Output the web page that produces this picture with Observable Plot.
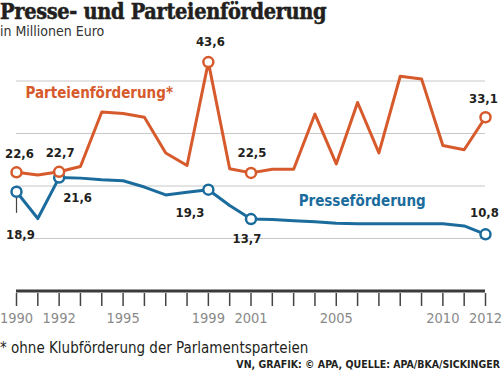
<!DOCTYPE html>
<html><head><meta charset="utf-8">
<script src="https://cdn.jsdelivr.net/npm/d3@7"></script>
<script src="https://cdn.jsdelivr.net/npm/@observablehq/plot@0.6"></script>
<style>
body{margin:0;background:#fff;width:502px;height:372px;overflow:hidden;color:#231f20}
#title{font-family:"DejaVu Serif Condensed","DejaVu Serif",serif;font-weight:bold;font-size:21.5px;line-height:23px;height:23px;white-space:nowrap;letter-spacing:-0.3px;-webkit-text-stroke:0.5px #231f20;padding-left:0px}
#sub{font-family:"DejaVu Sans Condensed","DejaVu Sans",sans-serif;font-size:14px;line-height:16px;height:16px;white-space:nowrap;color:#333}
#chart{height:301px}
#note{font-family:"DejaVu Sans Condensed","DejaVu Sans",sans-serif;font-size:15px;line-height:17px;height:17px;white-space:nowrap;color:#231f20}
#src{font-family:"DejaVu Sans Condensed","DejaVu Sans",sans-serif;font-weight:bold;font-size:10.5px;line-height:14px;height:14px;white-space:nowrap;text-align:right;padding-right:2px;color:#231f20}
</style></head><body>
<div id="title">Presse- und Parteienförderung</div>
<div id="sub">in Millionen Euro</div>
<div id="chart"></div>
<div id="note">* ohne Klubförderung der Parlamentsparteien</div>
<div id="src">VN, GRAFIK: © APA, QUELLE: APA/BKA/SICKINGER</div>
<script>
const years = [1990,1991,1992,1993,1994,1995,1996,1997,1998,1999,2000,2001,2002,2003,2004,2005,2006,2007,2008,2009,2010,2011,2012];
const parteien = [22.6,22.1,22.7,23.7,34.1,33.8,33.1,26.3,23.9,43.6,23.3,22.5,23.2,23.2,33.7,24.2,35.9,26.3,40.9,40.4,27.7,26.9,33.1];
const presse = [18.9,13.8,21.6,21.5,21.2,21.0,19.8,18.3,18.8,19.3,16.3,13.7,13.6,13.4,13.2,12.9,12.8,12.8,12.8,12.8,12.8,12.4,10.8];
const tickYears = [1990,1992,1995,1999,2001,2005,2010,2012];
const markedYears = [1990,1992,1999,2001,2012];
const seriesNames = {parteien: "Parteienförderung*", presse: "Presseförderung"};

const orange = "#d65a2b", blue = "#1b6c9c";
const rows = years.map((y,i)=>({year:y, parteien:parteien[i], presse:presse[i]}));
const marked = rows.filter(d=>markedYears.includes(d.year));
const fmt = v => v.toFixed(1).replace(".", ",");

// label placement (pixel offsets relative to the point)
const labelLayout = [
  {s:"parteien", year:1990, dx:3, dy:-19, a:"middle"},
  {s:"parteien", year:1992, dx:1, dy:-19, a:"middle"},
  {s:"parteien", year:1999, dx:2, dy:-20, a:"middle"},
  {s:"parteien", year:2001, dx:1, dy:-20, a:"middle"},
  {s:"parteien", year:2012, dx:-2, dy:-18, a:"middle"},
  {s:"presse", year:1990, dx:4, dy:43, a:"middle"},
  {s:"presse", year:1992, dx:4, dy:20, a:"start"},
  {s:"presse", year:1999, dx:-4, dy:23, a:"end"},
  {s:"presse", year:2001, dx:-4, dy:20, a:"middle"},
  {s:"presse", year:2012, dx:-1, dy:-21, a:"middle"}
];
const labelFont = {fontFamily:"'DejaVu Sans Condensed','DejaVu Sans',sans-serif", fontWeight:"bold", fontSize:13, fill:"#231f20"};
const labelMarks = labelLayout.map(l => {
  const row = rows.find(d=>d.year===l.year);
  return Plot.text([row], {x:"year", y:l.s, text: d=>fmt(d[l.s]), dx:l.dx, dy:l.dy, textAnchor:l.a, ...labelFont});
});

const lineShape = {draw(ctx, l){ ctx.moveTo(0,0); ctx.lineTo(0,-l); }};

const chart = Plot.plot({
  width:502, height:301,
  marginTop:41.5, marginBottom:49.5, marginLeft:16, marginRight:17,
  x:{domain:[1990,2012], axis:null, label:null},
  y:{domain:[0,40], axis:null, label:null},
  style:{background:"transparent", overflow:"visible"},
  marks:[
    Plot.gridY([10,20,30,40], {stroke:"#c8c8c8", strokeOpacity:1, strokeWidth:1}),
    Plot.ruleY([0], {stroke:"#3a3a3a", strokeWidth:3}),
    Plot.axisX(years, {tickSize:13, tickFormat:()=>"", label:null, dy:2.5, color:"#444", strokeWidth:1.5}),
    Plot.axisX(tickYears, {tickSize:0, tickPadding:22, label:null, tickFormat:d=>String(d), color:"#8a8a8a", fontSize:14.5, fontFamily:"'DejaVu Sans Condensed','DejaVu Sans',sans-serif"}),
    Plot.vector(marked.filter(d=>d.year===1990), {x:"year", y:"presse", length:14, rotate:180, anchor:"start", dy:6.5, shape:lineShape, stroke:"#444", strokeWidth:1.2}),
    Plot.line(rows, {x:"year", y:"presse", stroke:blue, strokeWidth:3}),
    Plot.dot(marked, {x:"year", y:"presse", r:5, fill:"white", stroke:blue, strokeWidth:2.5}),
    Plot.line(rows, {x:"year", y:"parteien", stroke:orange, strokeWidth:3}),
    Plot.dot(marked, {x:"year", y:"parteien", r:5, fill:"white", stroke:orange, strokeWidth:2.5}),
    Plot.text([{year:1990, v:37.6, t:seriesNames.parteien}], {x:"year", y:"v", text:"t", dx:9, textAnchor:"start", fill:orange, fontWeight:"bold", fontSize:15, fontFamily:"'DejaVu Sans Condensed','DejaVu Sans',sans-serif"}),
    Plot.text([{year:2003, v:17.1, t:seriesNames.presse}], {x:"year", y:"v", text:"t", dx:5, textAnchor:"start", fill:blue, fontWeight:"bold", fontSize:15, fontFamily:"'DejaVu Sans Condensed','DejaVu Sans',sans-serif"}),
    ...labelMarks
  ]
});
document.getElementById("chart").appendChild(chart);
</script>
</body></html>
